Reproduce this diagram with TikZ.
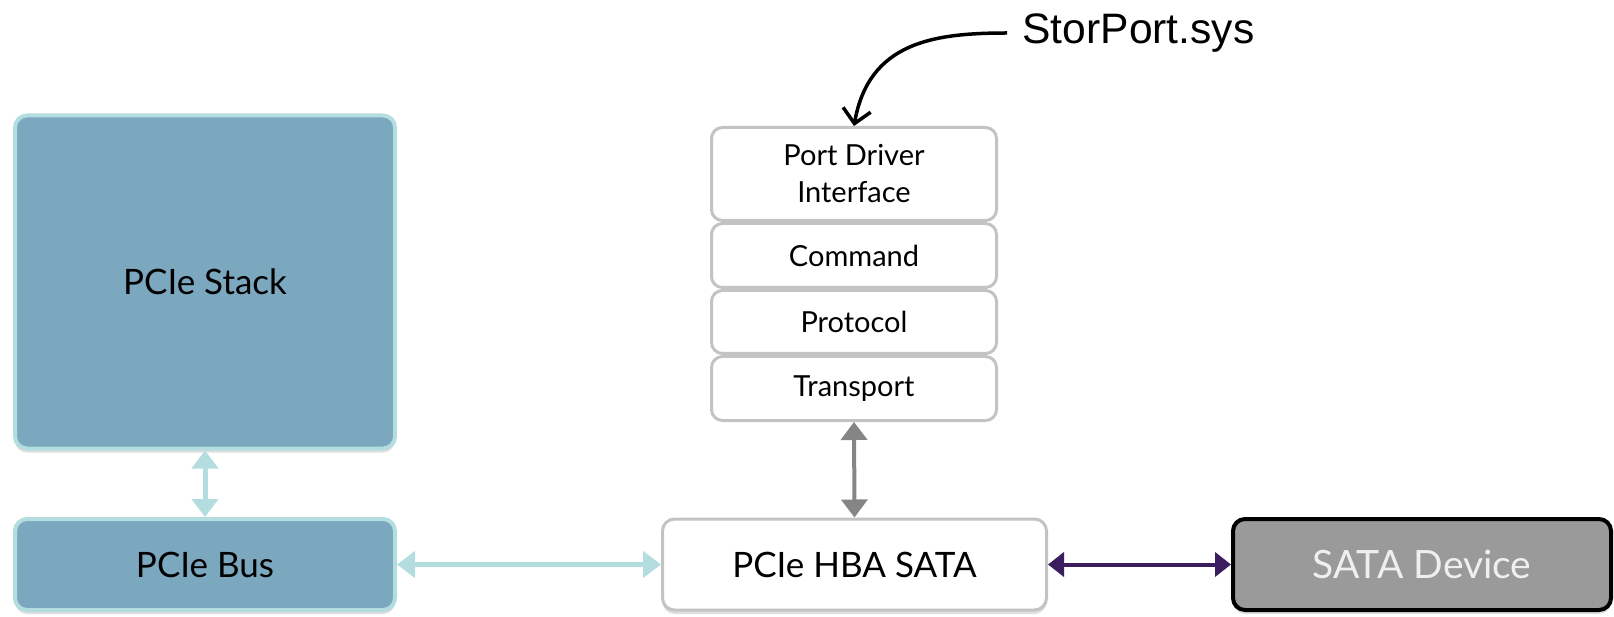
\documentclass[tikz,border=0pt]{standalone}
\usepackage{fontspec}
\setmainfont{Lato}
\newfontfamily\labelfont{Liberation Sans}
\usetikzlibrary{positioning,arrows.meta,shadows}

\definecolor{pciefill}{HTML}{7BA7BF}
\definecolor{pcieline}{HTML}{B4DDE0}
\definecolor{layerline}{HTML}{C3C3C3}
\definecolor{hbaarrow}{HTML}{858585}
\definecolor{sataarrow}{HTML}{3B1C5E}
\definecolor{satafill}{HTML}{9A9A9A}
\definecolor{satatext}{HTML}{EFEFEF}

\tikzset{
  boxshadow/.style={drop shadow={shadow xshift=0pt,shadow yshift=-4pt,opacity=.25}},
  pciebox/.style={draw=pcieline,fill=pciefill,line width=4pt,rounded corners=12pt,
    boxshadow,font=\fontsize{35}{40}\selectfont},
  layerbox/.style={draw=layerline,fill=white,line width=3pt,rounded corners=11pt,
    minimum width=285pt,align=center,font=\fontsize{29}{37}\selectfont},
  hbabox/.style={draw=layerline,fill=white,line width=3pt,rounded corners=12pt,
    boxshadow,font=\fontsize{35}{40}\selectfont},
  satabox/.style={draw=black,fill=satafill,line width=4pt,rounded corners=12pt,
    boxshadow,text=satatext,font=\fontsize{39}{43}\selectfont},
  linkarrow/.style={draw=#1,line width=5pt,{Triangle[width=26pt,length=18pt]}-{Triangle[width=26pt,length=18pt]}}
}

\begin{document}
\begin{tikzpicture}[x=1pt,y=-1pt]
\useasboundingbox (0,0) rectangle (1614,617);
% left side
\node[pciebox,minimum width=380pt,minimum height=333pt] (stack) at (205,282) {PCIe Stack};
\node[pciebox,minimum width=380pt,minimum height=91pt] (bus) at (205,564.5) {PCIe Bus};
% middle
\node[hbabox,minimum width=384pt,minimum height=91pt] (hba) at (854.5,564.5) {PCIe HBA SATA};
\node[layerbox,minimum height=93pt] (pdi) at (854,174) {Port Driver\\Interface};
\node[layerbox,minimum height=64pt,below=0pt of pdi] (cmd) {Command};
\node[layerbox,minimum height=63pt,below=0pt of cmd] (proto) {Protocol};
\node[layerbox,minimum height=64pt,below=0pt of proto] (trans) {Transport};
% right side
\node[satabox,minimum width=378pt,minimum height=91pt] (sata) at (1422,564.5) {SATA Device};
\node[font=\labelfont\fontsize{42.6}{48}\selectfont,anchor=west] (storport) at (1019,33) {StorPort.sys};
% links
\draw[linkarrow=pcieline] (stack.south) -- (bus.north);
\draw[linkarrow=pcieline] (bus.east) -- (hba.west);
\draw[linkarrow=hbaarrow,line width=4pt] (trans.south) -- (hba.north);
\draw[linkarrow=sataarrow,line width=4pt,{Triangle[width=24pt,length=16pt]}-{Triangle[width=24pt,length=16pt]}] (hba.east) -- (sata.west);
\draw[line width=3.5pt,shorten <=12pt,-{Straight Barb[length=14pt,width=28pt,line width=3.5pt]}]
  (storport.west) to[out=180,in=80,looseness=1.15] (pdi.north);
\end{tikzpicture}
\end{document}
